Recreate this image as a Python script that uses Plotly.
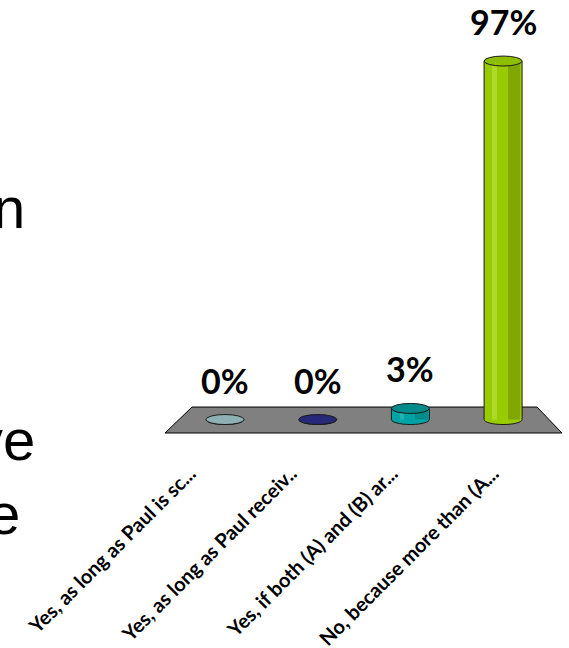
import plotly.graph_objects as go

categories = ["Yes, as long as Paul is sc...", "Yes, as long as Paul receiv..",
              "Yes, if both (A) and (B) ar...", "No, because more than (A..."]
values = [0, 0, 3, 97]
value_labels = ["0%", "0%", "3%", "97%"]
body_colors = ["#8FB0B4", "#262878", "#00A3A3", "#99CC00"]
top_colors = ["#8FB0B4", "#262878", "#008A8A", "#8DBE00"]
shade_colors = ["#7A9A9E", "#1E2064", "#008C8C", "#80A800"]
light_colors = ["#A8C6CA", "#34368C", "#1FB5B5", "#ADDA2A"]
slide_text = ["n", "ve", "e"]

W, H = 569, 648
L, R, T, B = 150, 0, 12.5, 203
PW, PH = W - L - R, H - T - B

def px(x):
    return (x - L) / PW

def py(y):
    return 1 - (y - T) / PH

xs = list(range(len(categories)))
bw = 0.41
ry = 1.35

fig = go.Figure()
fig.add_trace(go.Bar(x=xs, y=values, width=bw, marker=dict(color=body_colors, line=dict(width=0)),
                     hoverinfo="skip", showlegend=False))
fig.add_trace(go.Bar(x=xs, y=values, width=0.13, offset=bw / 2 - 0.15,
                     marker=dict(color=shade_colors, line=dict(width=0)), hoverinfo="skip", showlegend=False))
fig.add_trace(go.Bar(x=xs, y=values, width=0.05, offset=-bw / 2 + 0.09,
                     marker=dict(color=light_colors, line=dict(width=0)), hoverinfo="skip", showlegend=False))
fig.add_trace(go.Scatter(x=xs, y=values, xaxis="x2", mode="markers", marker=dict(opacity=0),
                         hoverinfo="skip", showlegend=False))

shapes = []
# floor
shapes.append(dict(type="path", xref="x", yref="y", layer="below",
                   path="M -0.356,3.38 L 3.366,3.38 L 3.635,-3.65 L -0.647,-3.65 Z",
                   fillcolor="#808080", line=dict(color="black", width=1)))
k = 0.5523
for i, v in enumerate(values):
    xl, xr = i - bw / 2, i + bw / 2
    rx = bw / 2
    arc = (f"M {xl},0 C {xl},{-k*ry} {i-k*rx},{-ry} {i},{-ry} "
           f"C {i+k*rx},{-ry} {xr},{-k*ry} {xr},0")
    shapes.append(dict(type="path", xref="x", yref="y", path=arc + " Z",
                       fillcolor=body_colors[i], line=dict(width=0)))
    shapes.append(dict(type="path", xref="x", yref="y", path=arc,
                       fillcolor="rgba(0,0,0,0)", line=dict(color="#1a1a1a", width=1)))
    if v > 0:
        for xx in (xl, xr):
            shapes.append(dict(type="line", xref="x", yref="y", x0=xx, x1=xx, y0=0, y1=v,
                               line=dict(color="#1a1a1a", width=1)))
    shapes.append(dict(type="circle", xref="x", yref="y", x0=xl, x1=xr, y0=v - ry, y1=v + ry,
                       fillcolor=top_colors[i], line=dict(color="#1a1a1a", width=1)))

annotations = []
for i, v in enumerate(values):
    annotations.append(dict(x=i, y=v, xref="x", yref="y", text=value_labels[i], showarrow=False,
                            yanchor="bottom", yshift=17,
                            font=dict(family="Lato", size=34, color="black", weight="bold")))

slide_pos = [(27.3, 207.5), (36.7, 439), (22, 514)]
for t, (ax, ay) in zip(slide_text, slide_pos):
    annotations.append(dict(x=px(ax), y=py(ay), xref="paper", yref="paper", text=t, showarrow=False,
                            xanchor="right", yanchor="middle",
                            font=dict(family="Liberation Sans", size=58, color="black")))

fig.update_layout(
    width=W, height=H, margin=dict(l=L, r=R, t=T, b=B, autoexpand=False),
    paper_bgcolor="white", plot_bgcolor="rgba(0,0,0,0)",
    barmode="overlay", bargap=0,
    shapes=shapes, annotations=annotations,
    xaxis=dict(range=[-0.809, 3.711], visible=False, fixedrange=True),
    yaxis=dict(range=[-6.892, 110], visible=False, fixedrange=True),
    xaxis2=dict(overlaying="x", anchor="y", side="bottom", range=[-0.396, 3.753],
                tickmode="array", tickvals=xs, ticktext=categories, tickangle=-45,
                ticklabelstandoff=12, showline=False, showgrid=False, zeroline=False, ticks="",
                tickfont=dict(family="Lato", size=20, color="black", weight="bold")),
)

fig.write_html("out.html", config={"displayModeBar": False, "staticPlot": True},
               post_script="document.body.style.margin='0';document.body.style.overflow='hidden';")
